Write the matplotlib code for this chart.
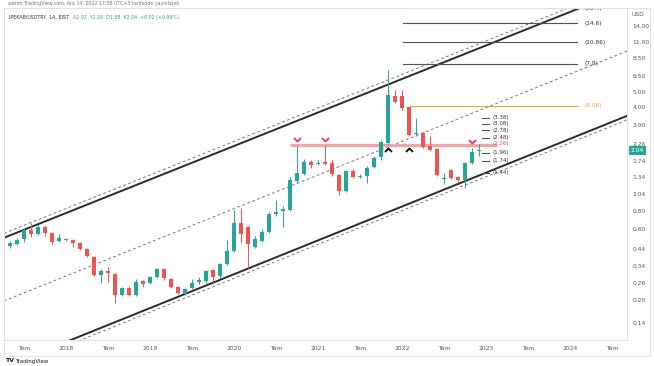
import numpy as np
import matplotlib
matplotlib.use("Agg")
import matplotlib.pyplot as plt
from matplotlib.path import Path
from matplotlib.markers import MarkerStyle
from matplotlib.ticker import FixedLocator, NullLocator
import matplotlib.transforms as mtransforms
from matplotlib.patches import Rectangle

# ---------------- data (monthly candles, month index = months since Jan 2022) -------------
months = list(range(-56, 12))
opens = [0.462, 0.477, 0.516, 0.592, 0.557, 0.620, 0.566, 0.500, 0.516, 0.508,
         0.485, 0.441, 0.390, 0.295, 0.314, 0.299, 0.216, 0.241, 0.216, 0.269,
         0.261, 0.286, 0.324, 0.277, 0.245, 0.219, 0.241, 0.265, 0.269, 0.319,
         0.290, 0.350, 0.428, 0.660, 0.620, 0.455, 0.500, 0.574, 0.759, 0.795,
         0.808, 1.27, 1.41, 1.70, 1.65, 1.70, 1.67, 1.39, 1.08, 1.48,
         1.35, 1.37, 1.57, 1.84, 2.28, 4.73, 4.73, 3.99, 2.62, 2.66,
         2.18, 2.08, 1.31, 1.50, 1.35, 1.29, 1.67, 2.02]
highs = [0.500, 0.523, 0.611, 0.660, 0.640, 0.640, 0.574, 0.557, 0.523, 0.516,
         0.492, 0.448, 0.396, 0.324, 0.334, 0.304, 0.245, 0.249, 0.277, 0.273,
         0.290, 0.329, 0.329, 0.281, 0.249, 0.241, 0.277, 0.286, 0.319, 0.324,
         0.355, 0.508, 0.808, 0.833, 0.630, 0.540, 0.601, 0.783, 0.94, 0.859,
         1.35, 2.18, 1.77, 1.75, 1.75, 2.20, 1.75, 1.41, 1.50, 1.52,
         1.41, 1.60, 1.86, 2.38, 7.08, 5.19, 5.19, 4.02, 3.36, 2.70,
         2.54, 2.11, 1.43, 1.52, 1.37, 1.70, 2.11, 2.26]
lows = [0.448, 0.470, 0.492, 0.531, 0.548, 0.540, 0.477, 0.492, 0.500, 0.455,
        0.434, 0.390, 0.290, 0.261, 0.265, 0.191, 0.213, 0.213, 0.213, 0.245,
        0.257, 0.281, 0.273, 0.241, 0.219, 0.216, 0.237, 0.257, 0.261, 0.265,
        0.281, 0.345, 0.421, 0.485, 0.329, 0.448, 0.492, 0.566, 0.736, 0.620,
        0.795, 1.23, 1.39, 1.55, 1.62, 1.62, 1.37, 1.02, 1.06, 1.33,
        1.33, 1.23, 1.55, 1.75, 2.21, 4.25, 3.81, 2.54, 2.54, 2.11,
        2.02, 1.37, 1.21, 1.31, 1.25, 1.14, 1.65, 1.88]
closes = [0.485, 0.508, 0.592, 0.557, 0.620, 0.566, 0.492, 0.523, 0.508, 0.485,
          0.441, 0.396, 0.295, 0.314, 0.304, 0.216, 0.241, 0.216, 0.265, 0.257,
          0.286, 0.324, 0.281, 0.245, 0.223, 0.237, 0.261, 0.273, 0.314, 0.286,
          0.350, 0.428, 0.660, 0.557, 0.477, 0.516, 0.574, 0.759, 0.783, 0.820,
          1.29, 1.43, 1.70, 1.62, 1.67, 1.65, 1.41, 1.08, 1.48, 1.35,
          1.37, 1.55, 1.81, 2.32, 4.80, 4.31, 3.93, 2.58, 2.66, 2.14,
          2.05, 1.39, 1.33, 1.33, 1.29, 1.67, 1.98, 2.04]

# channel lines: (month, price) endpoints
upper_solid = ([-58, 33], [0.500, 25.7])
upper_dashed = ([-58, 33], [0.536, 27.6])
middle_dashed = ([-58, 33], [0.188, 9.84])
lower_solid = ([-58, 33], [0.0675, 3.61])
lower_dashed = ([-58, 33], [0.0634, 3.39])

# target levels
big_levels = [18.4, 14.6, 10.86, 7.8]
big_level_labels = ["(18.4)", "(14.6)", "(10.86)", "(7.8)"]
orange_level = 4.06
small_levels = [3.38, 3.08, 2.78, 2.48, 2.26, 1.96, 1.74, 1.44]
resistance = 2.22
v_marks_t = [-15, -11, 10]
v_marks_p = [2.34, 2.34, 2.29]
caret_t = [-2, 1]
caret_p = [2.10, 2.10]

price_ticks = [14.00, 11.00, 8.50, 6.50, 5.00, 4.00, 3.00, 2.26, 1.74, 1.34,
               1.04, 0.80, 0.60, 0.44, 0.34, 0.26, 0.20, 0.14]
year_ticks = [-48, -36, -24, -12, 0, 12, 24]
year_labels = ["2018", "2019", "2020", "2021", "2022", "2023", "2024"]
jul_ticks = [-54, -42, -30, -18, -6, 6, 18, 30]
last_price = 2.04

# ---------------- figure ----------------
W, H = 654, 366
fig = plt.figure(figsize=(W / 100, H / 100), dpi=100)
fig.patch.set_facecolor("white")
ax = fig.add_axes([4 / W, 1 - 340 / H, 623 / W, 332 / H])
ax.set_yscale("log")
ax.set_xlim(-56.857, 32.143)
ax.set_ylim(0.1077, 18.51)

UP, DOWN = "#26a69a", "#ef5350"

# channel lines
ax.plot(*upper_solid, color="#2b2b2b", lw=1.4, zorder=2)
ax.plot(*lower_solid, color="#2b2b2b", lw=1.4, zorder=2)
for ln in (upper_dashed, middle_dashed, lower_dashed):
    ax.plot(*ln, color="#7a7a7a", lw=0.7, ls=(0, (3, 2.5)), zorder=2)

# resistance band
ax.plot([-16, 13.6], [resistance, resistance], color="#f4a3a8", lw=2.3,
        solid_capstyle="butt", zorder=2.5)

# big target levels
for lv, lab in zip(big_levels, big_level_labels):
    ax.plot([0.14, 25.0], [lv, lv], color="#555555", lw=0.8, zorder=2)
    ax.text(26.1, lv, lab, fontsize=4.2, color="#333333", va="center", ha="left",
            clip_on=True)
ax.plot([1.14, 25.1], [orange_level, orange_level], color="#f7a541", lw=0.8, zorder=2)
ax.text(26.1, orange_level, "(4.06)", fontsize=4.2, color="#f5a038", va="center",
        ha="left")

# small levels
for lv in small_levels:
    col = "#f08080" if lv == 2.26 else "#555555"
    tcol = "#e05a5a" if lv == 2.26 else "#333333"
    ax.plot([11.4, 12.4], [lv, lv], color=col, lw=0.8, zorder=2)
    ax.text(13.0, lv, f"({lv:.2f})", fontsize=4.0, color=tcol, va="center", ha="left")

# candles
for t, o, h, l, c in zip(months, opens, highs, lows, closes):
    col = UP if c >= o else DOWN
    ax.vlines(t, l, h, color=col, lw=0.7, zorder=3)
    lo, hi = min(o, c), max(o, c)
    if hi / lo < 1.018:
        mid = np.sqrt(hi * lo)
        lo, hi = mid / 1.009, mid * 1.009
    ax.bar(t, hi - lo, bottom=lo, width=0.68, color=col, linewidth=0, zorder=4)

# markers
v_marker = MarkerStyle(Path([(-1, 1), (0, 0), (1, 1)],
                            [Path.MOVETO, Path.LINETO, Path.LINETO]))
caret_marker = MarkerStyle(Path([(-1, -1), (0, 0), (1, -1)],
                                [Path.MOVETO, Path.LINETO, Path.LINETO]))
ax.plot(v_marks_t, v_marks_p, ls="none", marker=v_marker, ms=5, mfc="none",
        mec="#e8394b", mew=1.3, zorder=5)
ax.plot(caret_t, caret_p, ls="none", marker=caret_marker, ms=5, mfc="none",
        mec="#111111", mew=1.4, zorder=5)

# axes styling
ax.yaxis.tick_right()
ax.yaxis.set_major_locator(FixedLocator(price_ticks))
ax.yaxis.set_minor_locator(NullLocator())
ax.set_yticklabels([f"{v:.2f}" for v in price_ticks])
ax.tick_params(axis="y", length=0, pad=4, labelsize=4.3, labelcolor="#555555")
xt = sorted(year_ticks + jul_ticks)
xl = []
for t in xt:
    xl.append(year_labels[year_ticks.index(t)] if t in year_ticks else "Tem")
ax.set_xticks(xt)
ax.set_xticklabels(xl)
ax.xaxis.set_minor_locator(NullLocator())
ax.tick_params(axis="x", length=0, pad=4, labelsize=4.3, labelcolor="#555555")
for s in ax.spines.values():
    s.set_color("#dfe2ea")
    s.set_linewidth(0.7)

# last price badge
tr = mtransforms.blended_transform_factory(ax.transAxes, ax.transData)
ax.text(1.006, last_price, f"{last_price:.2f}", transform=tr, fontsize=4.3,
        color="white", va="center", ha="left",
        bbox=dict(boxstyle="square,pad=0.3", fc=UP, ec="none"))

# outer frame
fig.add_artist(Rectangle((4 / W, 1 - 356 / H), 646 / W, 348 / H, transform=fig.transFigure,
                         fill=False, ec="#dfe2ea", lw=0.7))

fig.text(631 / W, 1 - 15 / H, "USD", fontsize=4.3, color="#555555", va="center")
fig.text(8 / W, 1 - 4 / H,
         "asmm TradingView.com, Ara 14, 2022 17:38 UTC+3 tarihinde yayınlandı",
         fontsize=3.4, color="#777777", va="center")
fig.text(9 / W, 1 - 17 / H, "IPEKAB/USDTRY, 1A, BIST", fontsize=3.4,
         color="#333333", va="center")
fig.text(73 / W, 1 - 17 / H, "A2.02  Y2.26  D1.88  K2.04  +0.02 (+0.99%)",
         fontsize=3.4, color=UP, va="center")
fig.text(5 / W, 1 - 361 / H, "TV", fontsize=4.5, color="#131722", va="center",
         fontweight="bold")
fig.text(15 / W, 1 - 361 / H, "TradingView", fontsize=4.0, color="#131722",
         va="center")

fig.savefig("out.png", dpi=100)
